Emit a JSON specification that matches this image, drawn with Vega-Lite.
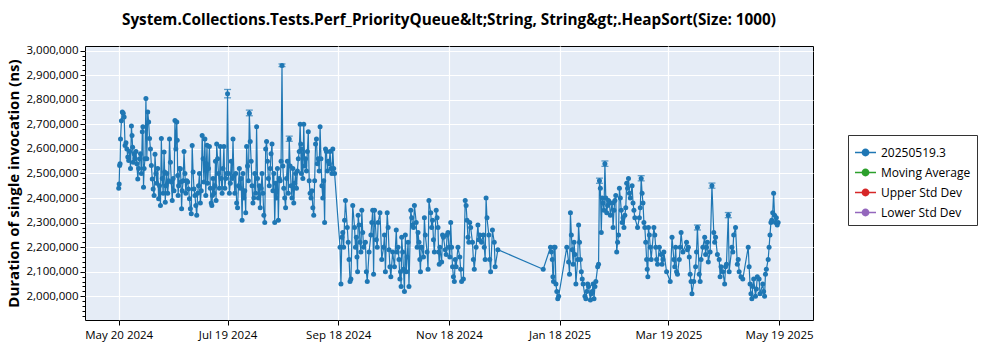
{
"$schema":"https://vega.github.io/schema/vega-lite/v6.json",
"width":728,"height":274,
"autosize":{"type":"none"},
"padding":{"left":85,"top":46,"right":187,"bottom":30},
"background":"white",
"title":{"text":"System.Collections.Tests.Perf_PriorityQueue&lt;String, String&gt;.HeapSort(Size: 1000)","font":"Open Sans","fontSize":15.3,"fontWeight":"bold","color":"black","anchor":"middle","baseline":"alphabetic","offset":4},
"config":{"view":{"fill":"#e5ecf6","stroke":"black","strokeWidth":1},
 "axis":{"labelFont":"Open Sans","labelFontSize":11.5,"labelColor":"black","titleFont":"Open Sans","titleColor":"black","tickColor":"black","domain":false,"gridColor":"white","gridWidth":1.2}},
"data":{"values":[
{"t":"2024-05-20","v":2440000},{"t":"2024-05-20T06:00Z","v":2457000},{"t":"2024-05-20T12:00Z","v":2533000},{"t":"2024-05-20T18:00Z","v":2540000},
{"t":"2024-05-21","v":2640000},{"t":"2024-05-21T12:00Z","v":2715000},
{"t":"2024-05-22","v":2750000},{"t":"2024-05-22T12:00Z","v":2745000},
{"t":"2024-05-23","v":2730000},{"t":"2024-05-23T12:00Z","v":2614000},
{"t":"2024-05-24","v":2625000},{"t":"2024-05-24T12:00Z","v":2600000},
{"t":"2024-05-25","v":2567000},{"t":"2024-05-25T12:00Z","v":2553000},
{"t":"2024-05-26","v":2590000},{"t":"2024-05-26T12:00Z","v":2520000},
{"t":"2024-05-27","v":2693000},{"t":"2024-05-27T08:00Z","v":2655000},{"t":"2024-05-27T16:00Z","v":2607000},
{"t":"2024-05-28","v":2546000},{"t":"2024-05-28T12:00Z","v":2580000},
{"t":"2024-05-29","v":2560000},{"t":"2024-05-29T12:00Z","v":2590000},
{"t":"2024-05-30","v":2540000},{"t":"2024-05-30T12:00Z","v":2478000},
{"t":"2024-05-31","v":2520000},{"t":"2024-05-31T12:00Z","v":2560000},
{"t":"2024-06-01","v":2580000},{"t":"2024-06-01T12:00Z","v":2500000},
{"t":"2024-06-02","v":2670000},{"t":"2024-06-02T08:00Z","v":2690000},{"t":"2024-06-02T16:00Z","v":2444000},
{"t":"2024-06-03","v":2520000},{"t":"2024-06-03T12:00Z","v":2560000},
{"t":"2024-06-04","v":2805000},{"t":"2024-06-04T12:00Z","v":2560000},
{"t":"2024-06-05","v":2750000},{"t":"2024-06-05T12:00Z","v":2710000},
{"t":"2024-06-06","v":2642000},{"t":"2024-06-06T12:00Z","v":2600000},
{"t":"2024-06-07","v":2533000},{"t":"2024-06-07T12:00Z","v":2478000},
{"t":"2024-06-08","v":2437000},{"t":"2024-06-08T12:00Z","v":2410000},
{"t":"2024-06-09","v":2578000},{"t":"2024-06-09T12:00Z","v":2500000},
{"t":"2024-06-10","v":2460000},{"t":"2024-06-10T12:00Z","v":2520000},
{"t":"2024-06-11","v":2397000},{"t":"2024-06-11T12:00Z","v":2450000},
{"t":"2024-06-12","v":2370000},{"t":"2024-06-12T12:00Z","v":2642000},
{"t":"2024-06-13","v":2480000},{"t":"2024-06-13T12:00Z","v":2420000},
{"t":"2024-06-14","v":2587000},{"t":"2024-06-14T08:00Z","v":2506000},{"t":"2024-06-14T16:00Z","v":2383000},
{"t":"2024-06-15","v":2450000},{"t":"2024-06-15T12:00Z","v":2500000},
{"t":"2024-06-16","v":2420000},{"t":"2024-06-16T12:00Z","v":2470000},
{"t":"2024-06-17","v":2640000},{"t":"2024-06-17T12:00Z","v":2546000},
{"t":"2024-06-18","v":2465000},{"t":"2024-06-18T12:00Z","v":2390000},
{"t":"2024-06-19","v":2480000},{"t":"2024-06-19T12:00Z","v":2430000},
{"t":"2024-06-20","v":2716000},{"t":"2024-06-20T12:00Z","v":2600000},
{"t":"2024-06-21","v":2710000},{"t":"2024-06-21T06:00Z","v":2635000},{"t":"2024-06-21T12:00Z","v":2492000},{"t":"2024-06-21T18:00Z","v":2410000},
{"t":"2024-06-22","v":2450000},{"t":"2024-06-22T12:00Z","v":2520000},
{"t":"2024-06-23","v":2519000},{"t":"2024-06-23T08:00Z","v":2465000},{"t":"2024-06-23T16:00Z","v":2356000},
{"t":"2024-06-24","v":2430000},{"t":"2024-06-24T12:00Z","v":2470000},
{"t":"2024-06-25","v":2590000},{"t":"2024-06-25T12:00Z","v":2500000},
{"t":"2024-06-26","v":2420000},{"t":"2024-06-26T12:00Z","v":2470000},
{"t":"2024-06-27","v":2465000},{"t":"2024-06-27T12:00Z","v":2437000},
{"t":"2024-06-28","v":2397000},{"t":"2024-06-28T12:00Z","v":2356000},
{"t":"2024-06-29","v":2336000},{"t":"2024-06-29T12:00Z","v":2614000},
{"t":"2024-06-30","v":2506000},{"t":"2024-06-30T12:00Z","v":2437000},
{"t":"2024-07-01","v":2410000},{"t":"2024-07-01T12:00Z","v":2370000},
{"t":"2024-07-02","v":2330000},{"t":"2024-07-02T12:00Z","v":2420000},
{"t":"2024-07-03","v":2450000},{"t":"2024-07-03T12:00Z","v":2500000},
{"t":"2024-07-04","v":2380000},{"t":"2024-07-04T12:00Z","v":2430000},
{"t":"2024-07-05","v":2655000},{"t":"2024-07-05T12:00Z","v":2560000},
{"t":"2024-07-06","v":2465000},{"t":"2024-07-06T12:00Z","v":2640000},
{"t":"2024-07-07","v":2410000},{"t":"2024-07-07T08:00Z","v":2540000},{"t":"2024-07-07T16:00Z","v":2615000},
{"t":"2024-07-08","v":2460000},{"t":"2024-07-08T12:00Z","v":2520000},
{"t":"2024-07-09","v":2610000},{"t":"2024-07-09T12:00Z","v":2440000},
{"t":"2024-07-10","v":2380000},{"t":"2024-07-10T08:00Z","v":2370000},{"t":"2024-07-10T16:00Z","v":2410000},
{"t":"2024-07-11","v":2480000},{"t":"2024-07-11T12:00Z","v":2420000},
{"t":"2024-07-12","v":2450000},{"t":"2024-07-12T08:00Z","v":2550000},{"t":"2024-07-12T16:00Z","v":2390000},
{"t":"2024-07-13","v":2620000},{"t":"2024-07-13T12:00Z","v":2560000},
{"t":"2024-07-14","v":2500000},{"t":"2024-07-14T12:00Z","v":2440000},
{"t":"2024-07-15","v":2610000},{"t":"2024-07-15T12:00Z","v":2480000},
{"t":"2024-07-16","v":2420000},{"t":"2024-07-16T12:00Z","v":2520000},
{"t":"2024-07-17","v":2610000},{"t":"2024-07-17T12:00Z","v":2440000},
{"t":"2024-07-18","v":2480000},{"t":"2024-07-18T12:00Z","v":2500000},
{"t":"2024-07-19","v":2825000,"lo":2808000,"hi":2842000},{"t":"2024-07-19T12:00Z","v":2500000},
{"t":"2024-07-20","v":2420000},{"t":"2024-07-20T12:00Z","v":2460000},
{"t":"2024-07-21","v":2550000},{"t":"2024-07-21T12:00Z","v":2480000},
{"t":"2024-07-22","v":2640000},{"t":"2024-07-22T12:00Z","v":2490000},
{"t":"2024-07-23","v":2420000},{"t":"2024-07-23T12:00Z","v":2500000},
{"t":"2024-07-24","v":2380000},{"t":"2024-07-24T12:00Z","v":2360000},
{"t":"2024-07-25","v":2450000},{"t":"2024-07-25T12:00Z","v":2520000},
{"t":"2024-07-26","v":2440000},{"t":"2024-07-26T12:00Z","v":2480000},
{"t":"2024-07-27","v":2310000},{"t":"2024-07-27T12:00Z","v":2500000},
{"t":"2024-07-28","v":2400000},{"t":"2024-07-28T12:00Z","v":2430000},
{"t":"2024-07-29","v":2340000},{"t":"2024-07-29T12:00Z","v":2610000},
{"t":"2024-07-30","v":2530000},{"t":"2024-07-30T12:00Z","v":2470000},
{"t":"2024-07-31","v":2745000,"lo":2735000,"hi":2758000},{"t":"2024-07-31T12:00Z","v":2630000},
{"t":"2024-08-01","v":2550000},{"t":"2024-08-01T12:00Z","v":2450000},
{"t":"2024-08-02","v":2380000},{"t":"2024-08-02T12:00Z","v":2400000},
{"t":"2024-08-03","v":2500000},{"t":"2024-08-03T12:00Z","v":2420000},
{"t":"2024-08-04","v":2690000},{"t":"2024-08-04T12:00Z","v":2480000},
{"t":"2024-08-05","v":2400000},{"t":"2024-08-05T12:00Z","v":2450000},
{"t":"2024-08-06","v":2360000},{"t":"2024-08-06T12:00Z","v":2440000},
{"t":"2024-08-07","v":2500000},{"t":"2024-08-07T12:00Z","v":2420000},
{"t":"2024-08-08","v":2330000},{"t":"2024-08-08T12:00Z","v":2300000},
{"t":"2024-08-09","v":2600000},{"t":"2024-08-09T12:00Z","v":2630000},
{"t":"2024-08-10","v":2550000},{"t":"2024-08-10T12:00Z","v":2480000},
{"t":"2024-08-11","v":2450000},{"t":"2024-08-11T12:00Z","v":2520000},
{"t":"2024-08-12","v":2580000},{"t":"2024-08-12T12:00Z","v":2620000},
{"t":"2024-08-13","v":2430000},{"t":"2024-08-13T12:00Z","v":2500000},
{"t":"2024-08-14","v":2300000},{"t":"2024-08-14T12:00Z","v":2460000},
{"t":"2024-08-15","v":2400000},{"t":"2024-08-15T12:00Z","v":2520000},
{"t":"2024-08-16","v":2310000},{"t":"2024-08-16T12:00Z","v":2480000},
{"t":"2024-08-17","v":2470000},{"t":"2024-08-17T12:00Z","v":2550000},
{"t":"2024-08-18","v":2940000,"lo":2935000,"hi":2946000},{"t":"2024-08-18T12:00Z","v":2530000},
{"t":"2024-08-19","v":2440000},{"t":"2024-08-19T12:00Z","v":2400000},
{"t":"2024-08-20","v":2360000},{"t":"2024-08-20T12:00Z","v":2480000},
{"t":"2024-08-21","v":2550000},{"t":"2024-08-21T12:00Z","v":2420000},
{"t":"2024-08-22","v":2640000,"lo":2631000,"hi":2652000},{"t":"2024-08-22T12:00Z","v":2530000},
{"t":"2024-08-23","v":2450000},{"t":"2024-08-23T12:00Z","v":2400000},
{"t":"2024-08-24","v":2520000},{"t":"2024-08-24T12:00Z","v":2380000},
{"t":"2024-08-25","v":2460000},{"t":"2024-08-25T12:00Z","v":2500000},
{"t":"2024-08-26","v":2440000},{"t":"2024-08-26T12:00Z","v":2510000},
{"t":"2024-08-27","v":2560000},{"t":"2024-08-27T12:00Z","v":2590000},
{"t":"2024-08-28","v":2700000},{"t":"2024-08-28T08:00Z","v":2620000},{"t":"2024-08-28T16:00Z","v":2500000},
{"t":"2024-08-29","v":2600000},{"t":"2024-08-29T12:00Z","v":2480000},
{"t":"2024-08-30","v":2700000},{"t":"2024-08-30T12:00Z","v":2530000},
{"t":"2024-08-31","v":2560000},{"t":"2024-08-31T12:00Z","v":2510000},
{"t":"2024-09-01","v":2590000},{"t":"2024-09-01T12:00Z","v":2670000},
{"t":"2024-09-02","v":2470000},{"t":"2024-09-02T12:00Z","v":2420000},
{"t":"2024-09-03","v":2400000},{"t":"2024-09-03T12:00Z","v":2430000},
{"t":"2024-09-04","v":2360000},{"t":"2024-09-04T12:00Z","v":2330000},
{"t":"2024-09-05","v":2470000},{"t":"2024-09-05T12:00Z","v":2620000},
{"t":"2024-09-06","v":2640000},{"t":"2024-09-06T12:00Z","v":2540000},
{"t":"2024-09-07","v":2560000},{"t":"2024-09-07T12:00Z","v":2510000},
{"t":"2024-09-08","v":2690000},{"t":"2024-09-08T12:00Z","v":2560000},
{"t":"2024-09-09","v":2450000},{"t":"2024-09-09T12:00Z","v":2400000},
{"t":"2024-09-10","v":2470000},{"t":"2024-09-10T12:00Z","v":2300000},
{"t":"2024-09-11","v":2600000},{"t":"2024-09-11T12:00Z","v":2590000},
{"t":"2024-09-12","v":2510000},{"t":"2024-09-12T12:00Z","v":2550000},
{"t":"2024-09-13","v":2540000},{"t":"2024-09-13T12:00Z","v":2590000},
{"t":"2024-09-14","v":2520000},{"t":"2024-09-14T12:00Z","v":2500000},
{"t":"2024-09-15","v":2600000},{"t":"2024-09-15T12:00Z","v":2520000},
{"t":"2024-09-16","v":2500000},
{"t":"2024-09-19","v":2200000},{"t":"2024-09-19T12:00Z","v":2050000},
{"t":"2024-09-20","v":2240000},{"t":"2024-09-20T12:00Z","v":2260000},
{"t":"2024-09-21","v":2200000},{"t":"2024-09-21T12:00Z","v":2310000},
{"t":"2024-09-22","v":2390000},
{"t":"2024-09-23","v":2280000},{"t":"2024-09-23T12:00Z","v":2220000},
{"t":"2024-09-24","v":2150000},{"t":"2024-09-24T12:00Z","v":2060000},
{"t":"2024-09-25","v":2070000},
{"t":"2024-09-26","v":2370000},
{"t":"2024-09-27","v":2280000},{"t":"2024-09-27T12:00Z","v":2200000},
{"t":"2024-09-28","v":2240000},{"t":"2024-09-28T08:00Z","v":2160000},{"t":"2024-09-28T16:00Z","v":2100000},
{"t":"2024-09-29","v":2330000},{"t":"2024-09-29T12:00Z","v":2290000},
{"t":"2024-09-30","v":2220000},{"t":"2024-09-30T12:00Z","v":2180000},
{"t":"2024-10-01","v":2350000},{"t":"2024-10-01T12:00Z","v":2260000},
{"t":"2024-10-02","v":2200000},
{"t":"2024-10-03","v":2220000},{"t":"2024-10-03T12:00Z","v":2100000},
{"t":"2024-10-04","v":2060000},
{"t":"2024-10-05","v":2180000},
{"t":"2024-10-06","v":2250000},{"t":"2024-10-06T12:00Z","v":2300000},
{"t":"2024-10-07","v":2350000},{"t":"2024-10-07T12:00Z","v":2090000},
{"t":"2024-10-08","v":2350000},
{"t":"2024-10-09","v":2230000},{"t":"2024-10-09T12:00Z","v":2200000},
{"t":"2024-10-10","v":2300000},
{"t":"2024-10-11","v":2340000},
{"t":"2024-10-12","v":2150000},
{"t":"2024-10-13","v":2200000},{"t":"2024-10-13T12:00Z","v":2250000},
{"t":"2024-10-14","v":2100000},
{"t":"2024-10-15","v":2340000},{"t":"2024-10-15T12:00Z","v":2280000},
{"t":"2024-10-16","v":2190000},{"t":"2024-10-16T12:00Z","v":2120000},
{"t":"2024-10-17","v":2080000},
{"t":"2024-10-18","v":2180000},
{"t":"2024-10-19","v":2120000},
{"t":"2024-10-20","v":2270000},{"t":"2024-10-20T12:00Z","v":2180000},
{"t":"2024-10-21","v":2200000},{"t":"2024-10-21T12:00Z","v":2150000},
{"t":"2024-10-22","v":2070000},{"t":"2024-10-22T08:00Z","v":2100000},{"t":"2024-10-22T16:00Z","v":2040000},
{"t":"2024-10-23","v":2240000},{"t":"2024-10-23T12:00Z","v":2180000},
{"t":"2024-10-24","v":2110000},{"t":"2024-10-24T12:00Z","v":2020000},
{"t":"2024-10-25","v":2250000},{"t":"2024-10-25T12:00Z","v":2100000},
{"t":"2024-10-26","v":2160000},{"t":"2024-10-26T12:00Z","v":2220000},
{"t":"2024-10-27","v":2040000},
{"t":"2024-10-28","v":2350000},{"t":"2024-10-28T12:00Z","v":2320000},
{"t":"2024-10-29","v":2290000},{"t":"2024-10-29T12:00Z","v":2280000},
{"t":"2024-10-30","v":2370000},
{"t":"2024-10-31","v":2300000},{"t":"2024-10-31T12:00Z","v":2200000},
{"t":"2024-11-01","v":2260000},{"t":"2024-11-01T12:00Z","v":2220000},
{"t":"2024-11-02","v":2150000},{"t":"2024-11-02T08:00Z","v":2100000},{"t":"2024-11-02T16:00Z","v":2200000},
{"t":"2024-11-03","v":2200000},
{"t":"2024-11-04","v":2160000},{"t":"2024-11-04T12:00Z","v":2320000},
{"t":"2024-11-05","v":2250000},
{"t":"2024-11-06","v":2180000},{"t":"2024-11-06T12:00Z","v":2110000},
{"t":"2024-11-07","v":2390000},
{"t":"2024-11-08","v":2340000},{"t":"2024-11-08T12:00Z","v":2280000},
{"t":"2024-11-09","v":2310000},{"t":"2024-11-09T12:00Z","v":2230000},
{"t":"2024-11-10","v":2180000},
{"t":"2024-11-11","v":2350000},{"t":"2024-11-11T12:00Z","v":2320000},
{"t":"2024-11-12","v":2280000},{"t":"2024-11-12T08:00Z","v":2180000},{"t":"2024-11-12T16:00Z","v":2130000},
{"t":"2024-11-13","v":2200000},
{"t":"2024-11-14","v":2140000},{"t":"2024-11-14T12:00Z","v":2250000},
{"t":"2024-11-15","v":2240000},
{"t":"2024-11-16","v":2190000},{"t":"2024-11-16T12:00Z","v":2170000},
{"t":"2024-11-17","v":2250000},{"t":"2024-11-17T12:00Z","v":2260000},
{"t":"2024-11-18","v":2200000},{"t":"2024-11-18T12:00Z","v":2160000},
{"t":"2024-11-19","v":2300000},{"t":"2024-11-19T12:00Z","v":2200000},
{"t":"2024-11-20","v":2120000},{"t":"2024-11-20T12:00Z","v":2080000},
{"t":"2024-11-21","v":2060000},{"t":"2024-11-21T12:00Z","v":2150000},
{"t":"2024-11-22","v":2120000},
{"t":"2024-11-23","v":2200000},
{"t":"2024-11-24","v":2160000},{"t":"2024-11-24T12:00Z","v":2110000},
{"t":"2024-11-25","v":2060000},
{"t":"2024-11-26","v":2070000},
{"t":"2024-11-27","v":2390000},{"t":"2024-11-27T12:00Z","v":2370000},
{"t":"2024-11-28","v":2310000},{"t":"2024-11-28T12:00Z","v":2240000},
{"t":"2024-11-29","v":2220000},{"t":"2024-11-29T12:00Z","v":2300000},
{"t":"2024-11-30","v":2280000},
{"t":"2024-12-01","v":2220000},{"t":"2024-12-01T12:00Z","v":2150000},
{"t":"2024-12-02","v":2110000},
{"t":"2024-12-03","v":2200000},
{"t":"2024-12-04","v":2290000},{"t":"2024-12-04T12:00Z","v":2230000},
{"t":"2024-12-05","v":2250000},
{"t":"2024-12-06","v":2220000},
{"t":"2024-12-07","v":2250000},{"t":"2024-12-07T12:00Z","v":2200000},
{"t":"2024-12-08","v":2150000},{"t":"2024-12-08T12:00Z","v":2400000},
{"t":"2024-12-09","v":2320000},
{"t":"2024-12-10","v":2250000},{"t":"2024-12-10T12:00Z","v":2150000},
{"t":"2024-12-11","v":2100000},
{"t":"2024-12-12","v":2270000},
{"t":"2024-12-13","v":2220000},{"t":"2024-12-13T12:00Z","v":2120000},
{"t":"2024-12-15","v":2190000},
{"t":"2025-01-09","v":2110000},
{"t":"2025-01-13","v":2200000},{"t":"2025-01-13T12:00Z","v":2180000},
{"t":"2025-01-14","v":2150000},{"t":"2025-01-14T08:00Z","v":2080000},{"t":"2025-01-14T16:00Z","v":2060000},
{"t":"2025-01-15","v":2200000},{"t":"2025-01-15T12:00Z","v":2200000},
{"t":"2025-01-16","v":2050000},{"t":"2025-01-16T12:00Z","v":2020000},
{"t":"2025-01-17","v":1990000},{"t":"2025-01-17T12:00Z","v":2000000},
{"t":"2025-01-22","v":2200000},
{"t":"2025-01-23","v":2140000},{"t":"2025-01-23T12:00Z","v":2090000},
{"t":"2025-01-24","v":2340000},{"t":"2025-01-24T12:00Z","v":2250000},
{"t":"2025-01-25","v":2190000},{"t":"2025-01-25T12:00Z","v":2130000},
{"t":"2025-01-26","v":2220000},{"t":"2025-01-26T12:00Z","v":2170000},
{"t":"2025-01-27","v":2050000},
{"t":"2025-01-28","v":2150000},{"t":"2025-01-28T12:00Z","v":2290000},
{"t":"2025-01-29","v":2220000},{"t":"2025-01-29T12:00Z","v":2150000},
{"t":"2025-01-30","v":2100000},{"t":"2025-01-30T12:00Z","v":2070000},
{"t":"2025-01-31","v":2050000},
{"t":"2025-02-01","v":2000000},{"t":"2025-02-01T12:00Z","v":1990000},
{"t":"2025-02-02","v":2020000},{"t":"2025-02-02T12:00Z","v":2050000},
{"t":"2025-02-03","v":2040000},
{"t":"2025-02-04","v":1985000},{"t":"2025-02-04T12:00Z","v":2010000},
{"t":"2025-02-05","v":2020000},{"t":"2025-02-05T12:00Z","v":2050000},
{"t":"2025-02-06","v":1990000},{"t":"2025-02-06T12:00Z","v":2040000},
{"t":"2025-02-07","v":2060000},
{"t":"2025-02-08","v":2120000},{"t":"2025-02-08T12:00Z","v":2130000},
{"t":"2025-02-09","v":2470000,"lo":2460000,"hi":2481000},{"t":"2025-02-09T12:00Z","v":2440000},
{"t":"2025-02-10","v":2260000},{"t":"2025-02-10T12:00Z","v":2400000},
{"t":"2025-02-11","v":2380000},{"t":"2025-02-11T12:00Z","v":2350000},
{"t":"2025-02-12","v":2540000,"lo":2529000,"hi":2551000},{"t":"2025-02-12T12:00Z","v":2400000},
{"t":"2025-02-13","v":2340000},{"t":"2025-02-13T12:00Z","v":2370000},
{"t":"2025-02-14","v":2390000},{"t":"2025-02-14T12:00Z","v":2380000},
{"t":"2025-02-15","v":2330000},
{"t":"2025-02-16","v":2380000},{"t":"2025-02-16T12:00Z","v":2280000},
{"t":"2025-02-17","v":2350000},{"t":"2025-02-17T12:00Z","v":2390000},
{"t":"2025-02-18","v":2410000},{"t":"2025-02-18T12:00Z","v":2180000},
{"t":"2025-02-19","v":2220000},{"t":"2025-02-19T12:00Z","v":2250000},
{"t":"2025-02-20","v":2440000},{"t":"2025-02-20T12:00Z","v":2400000},
{"t":"2025-02-21","v":2350000},{"t":"2025-02-21T12:00Z","v":2300000},
{"t":"2025-02-22","v":2320000},{"t":"2025-02-22T12:00Z","v":2280000},
{"t":"2025-02-23","v":2330000},{"t":"2025-02-23T12:00Z","v":2360000},
{"t":"2025-02-24","v":2460000},{"t":"2025-02-24T12:00Z","v":2440000},
{"t":"2025-02-25","v":2480000},{"t":"2025-02-25T12:00Z","v":2420000},
{"t":"2025-02-26","v":2400000},
{"t":"2025-02-27","v":2450000},{"t":"2025-02-27T12:00Z","v":2380000},
{"t":"2025-02-28","v":2350000},{"t":"2025-02-28T12:00Z","v":2320000},
{"t":"2025-03-02","v":2280000},
{"t":"2025-03-03","v":2320000},{"t":"2025-03-03T12:00Z","v":2360000},
{"t":"2025-03-04","v":2480000,"lo":2470000,"hi":2491000},{"t":"2025-03-04T12:00Z","v":2420000},
{"t":"2025-03-05","v":2380000},{"t":"2025-03-05T12:00Z","v":2300000},
{"t":"2025-03-06","v":2280000},{"t":"2025-03-06T12:00Z","v":2220000},
{"t":"2025-03-07","v":2150000},{"t":"2025-03-07T08:00Z","v":2110000},{"t":"2025-03-07T16:00Z","v":2080000},
{"t":"2025-03-08","v":2280000},{"t":"2025-03-08T12:00Z","v":2250000},
{"t":"2025-03-09","v":2200000},{"t":"2025-03-09T12:00Z","v":2150000},
{"t":"2025-03-11","v":2280000},{"t":"2025-03-11T12:00Z","v":2250000},
{"t":"2025-03-12","v":2200000},{"t":"2025-03-12T12:00Z","v":2150000},
{"t":"2025-03-13","v":2130000},
{"t":"2025-03-14","v":2200000},
{"t":"2025-03-15","v":2170000},{"t":"2025-03-15T12:00Z","v":2130000},
{"t":"2025-03-16","v":2150000},{"t":"2025-03-16T12:00Z","v":2180000},
{"t":"2025-03-18","v":2100000},
{"t":"2025-03-20","v":2060000},
{"t":"2025-03-21","v":2240000},
{"t":"2025-03-22","v":2150000},{"t":"2025-03-22T12:00Z","v":2120000},
{"t":"2025-03-23","v":2200000},{"t":"2025-03-23T12:00Z","v":2100000},
{"t":"2025-03-24","v":2090000},
{"t":"2025-03-25","v":2150000},{"t":"2025-03-25T12:00Z","v":2200000},
{"t":"2025-03-26","v":2260000},
{"t":"2025-03-27","v":2180000},
{"t":"2025-03-29","v":2220000},{"t":"2025-03-29T12:00Z","v":2190000},
{"t":"2025-03-30","v":2200000},{"t":"2025-03-30T12:00Z","v":2160000},
{"t":"2025-03-31","v":2090000},{"t":"2025-03-31T12:00Z","v":2060000},
{"t":"2025-04-01","v":2010000},
{"t":"2025-04-02","v":2060000},
{"t":"2025-04-03","v":2120000},{"t":"2025-04-03T12:00Z","v":2180000},
{"t":"2025-04-04","v":2280000,"lo":2270000,"hi":2290000},
{"t":"2025-04-05","v":2090000},{"t":"2025-04-05T12:00Z","v":2060000},
{"t":"2025-04-06","v":2150000},
{"t":"2025-04-07","v":2200000},
{"t":"2025-04-08","v":2240000},{"t":"2025-04-08T12:00Z","v":2170000},
{"t":"2025-04-09","v":2200000},{"t":"2025-04-09T12:00Z","v":2220000},
{"t":"2025-04-10","v":2140000},
{"t":"2025-04-11","v":2180000},
{"t":"2025-04-12","v":2450000,"lo":2440000,"hi":2461000},
{"t":"2025-04-13","v":2260000},{"t":"2025-04-13T12:00Z","v":2220000},
{"t":"2025-04-14","v":2240000},
{"t":"2025-04-15","v":2170000},
{"t":"2025-04-16","v":2150000},{"t":"2025-04-16T12:00Z","v":2080000},
{"t":"2025-04-17","v":2120000},
{"t":"2025-04-18","v":2100000},
{"t":"2025-04-19","v":2050000},{"t":"2025-04-19T12:00Z","v":2120000},
{"t":"2025-04-20","v":2130000},
{"t":"2025-04-21","v":2330000,"lo":2320000,"hi":2341000},{"t":"2025-04-21T12:00Z","v":2100000},
{"t":"2025-04-23","v":2200000},{"t":"2025-04-23T12:00Z","v":2180000},
{"t":"2025-04-24","v":2250000},
{"t":"2025-04-25","v":2280000},
{"t":"2025-04-26","v":2130000},{"t":"2025-04-26T12:00Z","v":2150000},
{"t":"2025-04-27","v":2100000},
{"t":"2025-04-28","v":2080000},
{"t":"2025-04-29","v":2070000},
{"t":"2025-05-02","v":2200000},{"t":"2025-05-02T12:00Z","v":2120000},
{"t":"2025-05-03","v":2050000},{"t":"2025-05-03T12:00Z","v":2010000},
{"t":"2025-05-04","v":1990000},{"t":"2025-05-04T12:00Z","v":2040000},
{"t":"2025-05-05","v":2070000},
{"t":"2025-05-06","v":2000000},{"t":"2025-05-06T12:00Z","v":2030000},
{"t":"2025-05-07","v":2080000},
{"t":"2025-05-08","v":2070000},{"t":"2025-05-08T12:00Z","v":2010000},
{"t":"2025-05-10","v":2050000},{"t":"2025-05-10T12:00Z","v":2020000},
{"t":"2025-05-11","v":2000000},{"t":"2025-05-11T12:00Z","v":2090000},
{"t":"2025-05-12","v":2110000},
{"t":"2025-05-13","v":2150000},{"t":"2025-05-13T12:00Z","v":2200000},
{"t":"2025-05-14","v":2250000},{"t":"2025-05-14T12:00Z","v":2300000},
{"t":"2025-05-15","v":2310000},{"t":"2025-05-15T12:00Z","v":2340000},
{"t":"2025-05-16","v":2420000},{"t":"2025-05-16T12:00Z","v":2330000},
{"t":"2025-05-17","v":2300000},{"t":"2025-05-17T12:00Z","v":2320000},
{"t":"2025-05-18","v":2290000},{"t":"2025-05-18T12:00Z","v":2300000}
]},
"encoding":{
 "x":{"field":"t","type":"temporal",
  "scale":{"type":"utc","domain":[{"year":2024,"month":5,"date":1,"hours":10,"utc":true},{"year":2025,"month":6,"date":6,"hours":17,"utc":true}]},
  "axis":{"title":null,"labelExpr":"utcFormat(datum.value, '%b %d %Y')","tickSize":5,"labelPadding":4,"labelFlush":false,"labelOverlap":false,
   "values":[{"year":2024,"month":5,"date":20,"utc":true},{"year":2024,"month":7,"date":19,"utc":true},{"year":2024,"month":9,"date":18,"utc":true},{"year":2024,"month":11,"date":18,"utc":true},{"year":2025,"month":1,"date":18,"utc":true},{"year":2025,"month":3,"date":19,"utc":true},{"year":2025,"month":5,"date":19,"utc":true}]}},
 "y":{"field":"v","type":"quantitative","title":"Duration of single invocation (ns)",
  "scale":{"domain":[1903500,3019000],"nice":false,"zero":false},
  "axis":{"titleFontSize":15,"titleFontWeight":"bold","titlePadding":5,"labelOverlap":false,
   "values":[1920000,1940000,1960000,1980000,2000000,2020000,2040000,2060000,2080000,2100000,2120000,2140000,2160000,2180000,2200000,2220000,2240000,2260000,2280000,2300000,2320000,2340000,2360000,2380000,2400000,2420000,2440000,2460000,2480000,2500000,2520000,2540000,2560000,2580000,2600000,2620000,2640000,2660000,2680000,2700000,2720000,2740000,2760000,2780000,2800000,2820000,2840000,2860000,2880000,2900000,2920000,2940000,2960000,2980000,3000000],
   "labelExpr":"datum.value % 100000 === 0 ? format(datum.value, ',d') : ''",
   "gridOpacity":{"condition":{"test":"datum.value % 100000 !== 0","value":0},"value":1},
   "tickSize":{"condition":{"test":"datum.value % 100000 !== 0","value":3},"value":5}}}
},
"layer":[
 {"mark":{"type":"line","strokeWidth":1.2},
  "encoding":{"color":{"datum":"20250519.3","type":"nominal",
   "scale":{"domain":["20250519.3","Moving Average","Upper Std Dev","Lower Std Dev"],"range":["#1f77b4","#2ca02c","#d62728","#9467bd"]},
   "legend":{"orient":"none","legendX":763,"legendY":89,"title":null,"strokeColor":"#333333","fillColor":"white","padding":6,"rowPadding":2,
    "labelFont":"Open Sans","labelFontSize":12,"labelColor":"black","labelOffset":4,
    "symbolType":"M-1,0L1,0M-0.3,0A0.3,0.3 0 1,0 0.3,0A0.3,0.3 0 1,0 -0.3,0Z","symbolSize":441,"symbolStrokeWidth":1.5,
    "encode":{"symbols":{"update":{"fill":{"scale":"color","field":"value"},"stroke":{"scale":"color","field":"value"},"opacity":{"value":1}}}}}}}},
 {"mark":{"type":"point","filled":true,"size":25,"opacity":1},
  "encoding":{"color":{"datum":"20250519.3","type":"nominal"}}},
 {"transform":[{"filter":"isValid(datum.lo)"}],
  "mark":{"type":"rule","color":"#1f77b4","strokeWidth":1.3},
  "encoding":{"y":{"field":"lo","type":"quantitative","title":"Duration of single invocation (ns)"},"y2":{"field":"hi"}}},
 {"transform":[{"filter":"isValid(datum.lo)"}],
  "mark":{"type":"tick","orient":"horizontal","size":7,"thickness":1.3,"color":"#1f77b4"},
  "encoding":{"y":{"field":"lo","type":"quantitative","title":"Duration of single invocation (ns)"}}},
 {"transform":[{"filter":"isValid(datum.hi)"}],
  "mark":{"type":"tick","orient":"horizontal","size":7,"thickness":1.3,"color":"#1f77b4"},
  "encoding":{"y":{"field":"hi","type":"quantitative","title":"Duration of single invocation (ns)"}}}
]
}
